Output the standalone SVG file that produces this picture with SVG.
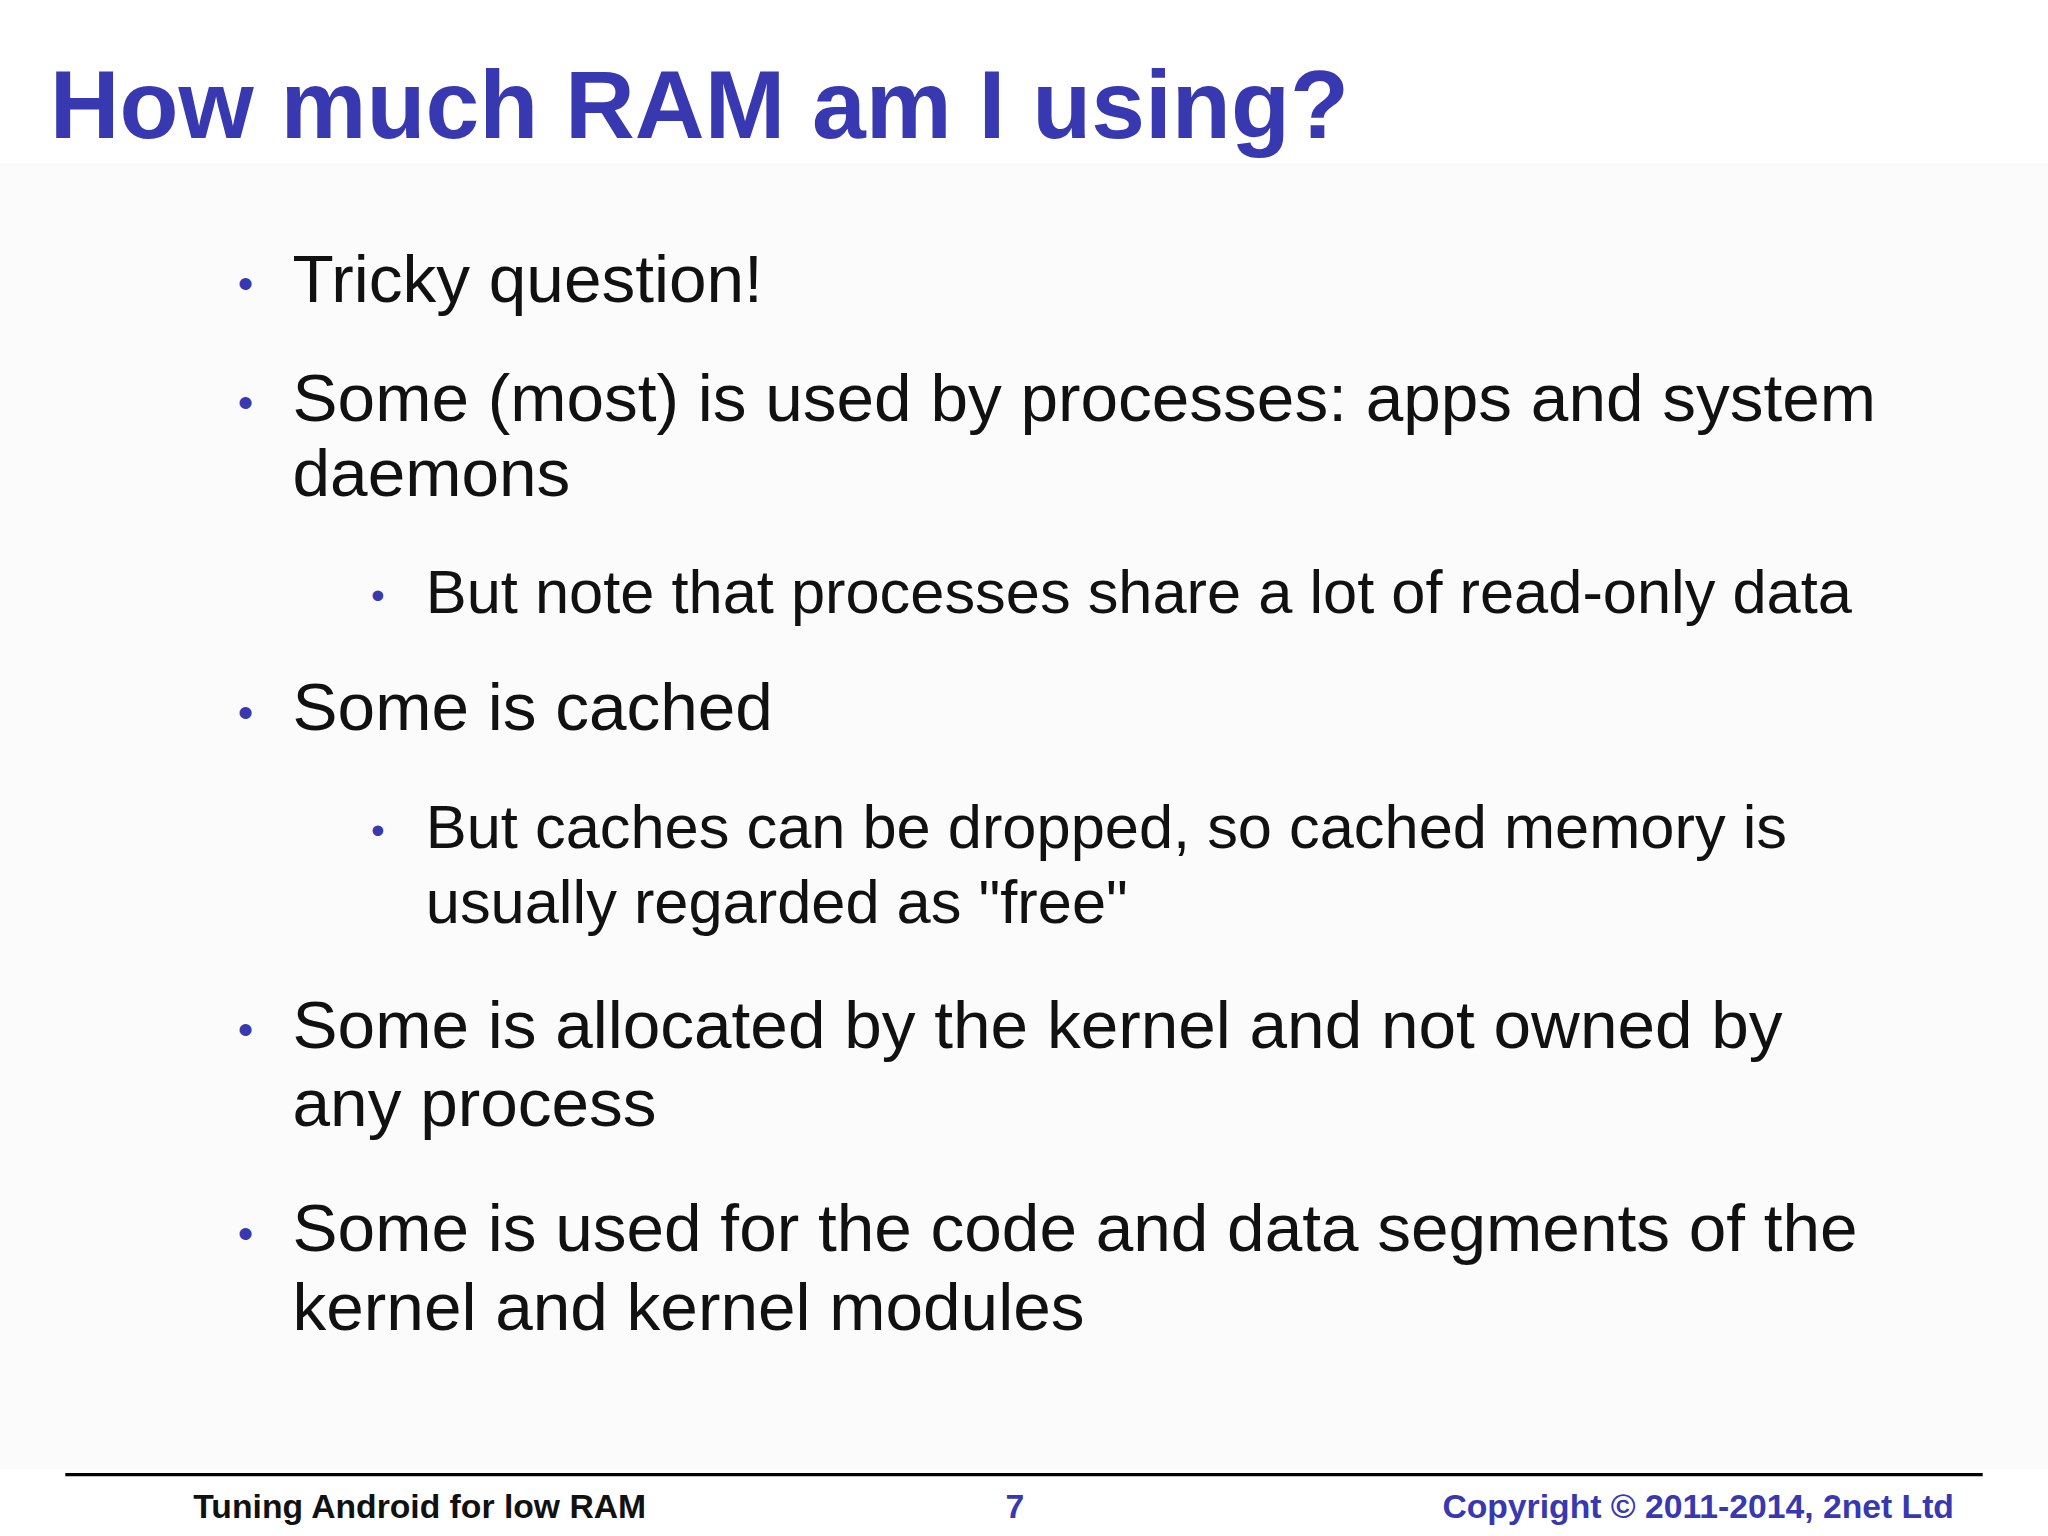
<svg xmlns="http://www.w3.org/2000/svg" width="2048" height="1536" viewBox="0 0 2048 1536">
<style>
.t{font-family:"Liberation Sans",Arial,sans-serif;fill:#111}
.b{font-family:"Liberation Sans",Arial,sans-serif;fill:#3838b0}
.f{font-family:"Liberation Sans",Arial,sans-serif;font-weight:bold;font-size:25.8px}
</style>
<rect width="2048" height="1536" fill="#ffffff"/>
<g transform="scale(1.30612)">
<rect x="0" y="125" width="1568" height="1000" fill="#fbfbfb"/>
<g id="title"><text class="b" x="38" y="106" font-size="74" font-weight="bold">How much RAM am I using?</text></g>
<g id="body">
<text class="b" x="182" y="229" font-size="34">•</text><text class="t" x="224" y="231" font-size="51.7">Tricky question!</text>
<text class="b" x="182" y="320" font-size="34">•</text><text class="t" x="224" y="322" font-size="51.7">Some (most) is used by processes: apps and system</text>
<text class="t" x="224" y="380" font-size="51.7">daemons</text>
<text class="b" x="284" y="466" font-size="30">•</text><text class="t" x="326" y="469" font-size="47">But note that processes share a lot of read-only data</text>
<text class="b" x="182" y="557" font-size="34">•</text><text class="t" x="224" y="559" font-size="51.7">Some is cached</text>
<text class="b" x="284" y="646" font-size="30">•</text><text class="t" x="326" y="649" font-size="47">But caches can be dropped, so cached memory is</text>
<text class="t" x="326" y="707" font-size="47">usually regarded as "free"</text>
<text class="b" x="182" y="800" font-size="34">•</text><text class="t" x="224" y="802" font-size="51.7">Some is allocated by the kernel and not owned by</text>
<text class="t" x="224" y="862" font-size="51.7">any process</text>
<text class="b" x="182" y="956" font-size="34">•</text><text class="t" x="224" y="958" font-size="51.7">Some is used for the code and data segments of the</text>
<text class="t" x="224" y="1018" font-size="51.7">kernel and kernel modules</text>
</g>
<g id="footer">
<line x1="50" y1="1129" x2="1518" y2="1129" stroke="#000" stroke-width="2.5"/>
<text class="f" x="148" y="1162" fill="#111">Tuning Android for low RAM</text>
<text class="f" x="777" y="1162" fill="#3838b0" text-anchor="middle">7</text>
<text class="f" x="1496" y="1162" fill="#3838b0" text-anchor="end">Copyright © 2011-2014, 2net Ltd</text>
</g>
</g>
</svg>
